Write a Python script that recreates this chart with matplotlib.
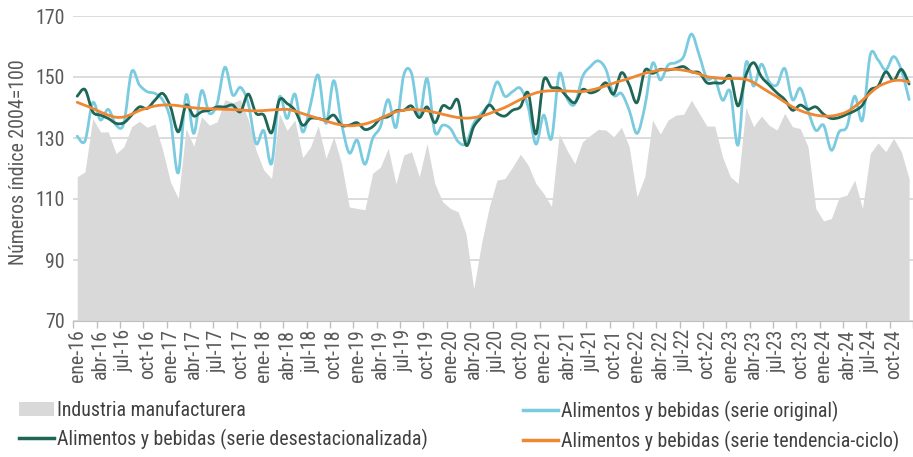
import matplotlib
matplotlib.use('Agg')
import matplotlib.pyplot as plt
from matplotlib import font_manager
from matplotlib.path import Path
from matplotlib.patches import PathPatch, Patch
from matplotlib.lines import Line2D

installed = {f.name for f in font_manager.fontManager.ttflist}
narrow = [n for n in ['Liberation Sans Narrow', 'Roboto Condensed', 'Open Sans Condensed']
          if n in installed]
if narrow:
    base_font = narrow[0]
    fs_tick, fs_leg = 14.3, 14.3
else:
    base_font = 'Liberation Sans'
    fs_tick, fs_leg = 12.5, 12
plt.rcParams['font.family'] = [base_font, 'DejaVu Sans']

months = ['ene', 'feb', 'mar', 'abr', 'may', 'jun', 'jul', 'ago', 'sep', 'oct', 'nov', 'dic']
years = ['16', '17', '18', '19', '20', '21', '22', '23', '24']
labels = [m + '-' + yy for yy in years for m in months]

industria = [
    117.3, 118.9, 136.4, 132.0, 132.0, 124.9, 127.1, 133.7, 135.5, 133.5, 134.6, 126.0,
    115.6, 110.2, 133.0, 127.3, 137.0, 134.2, 135.3, 142.6, 141.6, 142.6, 136.0, 126.0,
    119.5, 116.7, 138.0, 132.5, 135.9, 123.6, 127.0, 134.0, 123.3, 130.4, 121.6, 107.4,
    106.9, 106.5, 118.4, 120.5, 126.6, 115.0, 124.4, 125.5, 117.3, 128.2, 115.1, 109.1,
    106.9, 105.8, 98.7, 80.6, 95.4, 107.4, 116.2, 116.7, 120.5, 124.7, 121.1, 115.1,
    111.8, 107.6, 131.3, 126.0, 121.6, 128.8, 130.9, 132.8, 132.6, 130.4, 133.5, 127.1,
    110.7, 117.3, 135.9, 131.3, 135.9, 137.5, 137.8, 142.4, 138.1, 133.9, 133.9, 123.8,
    117.3, 115.1, 140.0, 133.7, 137.2, 134.2, 132.6, 138.1, 133.7, 133.1, 127.1, 106.9,
    102.8, 103.6, 110.5, 111.3, 116.2, 106.9, 124.9, 128.4, 125.5, 129.9, 125.5, 116.7]

original = [
    130.6, 129.0, 141.6, 135.9, 139.4, 134.2, 134.8, 151.7, 147.4, 145.2, 144.6, 142.4,
    135.9, 118.6, 144.1, 131.5, 145.5, 138.1, 141.3, 153.2, 144.1, 146.6, 141.3, 128.2,
    132.4, 121.6, 143.3, 136.4, 144.4, 132.0, 140.8, 150.6, 134.8, 148.8, 134.8, 125.1,
    129.3, 121.4, 129.8, 133.7, 142.6, 133.5, 150.6, 151.2, 137.0, 149.5, 132.0, 134.2,
    133.1, 128.8, 128.2, 134.8, 138.1, 141.3, 148.4, 143.7, 145.2, 146.3, 140.2, 128.0,
    137.5, 129.8, 151.0, 143.0, 141.1, 150.1, 153.4, 155.3, 152.5, 144.1, 144.6, 139.1,
    131.5, 140.2, 154.5, 149.0, 153.9, 154.7, 156.7, 164.1, 157.2, 149.5, 149.5, 142.4,
    145.2, 127.7, 154.5, 147.0, 154.2, 148.4, 147.4, 152.8, 142.6, 146.3, 138.9, 132.5,
    134.2, 126.0, 132.0, 133.7, 143.7, 135.9, 157.2, 155.6, 152.3, 156.7, 152.3, 142.6]

desest = [
    143.7, 145.9, 138.6, 137.5, 136.4, 134.8, 135.0, 137.5, 140.2, 139.7, 142.4, 144.6,
    140.2, 132.0, 140.8, 137.2, 138.6, 139.1, 140.2, 140.2, 140.8, 138.6, 144.4, 138.1,
    137.5, 131.7, 142.4, 141.3, 139.1, 134.2, 136.4, 136.4, 135.9, 137.5, 134.2, 134.2,
    135.0, 132.8, 133.7, 136.4, 137.0, 138.9, 139.1, 140.5, 136.7, 140.2, 135.0, 140.5,
    139.7, 142.2, 127.7, 133.7, 137.0, 140.8, 138.1, 137.2, 139.1, 140.2, 144.8, 131.3,
    149.0, 146.6, 146.3, 143.5, 141.6, 145.9, 144.8, 145.7, 148.1, 144.4, 151.4, 147.4,
    141.6, 152.1, 151.2, 152.5, 152.3, 152.8, 153.4, 151.7, 151.4, 148.1, 148.1, 148.1,
    150.3, 140.5, 150.5, 154.7, 150.1, 147.4, 144.8, 142.6, 139.1, 140.8, 139.4, 140.2,
    137.8, 136.4, 136.7, 137.8, 138.9, 140.8, 145.7, 147.0, 151.7, 148.8, 152.5, 147.7]

tendencia = [
    141.7, 140.7, 139.7, 138.5, 137.5, 136.8, 136.9, 137.8, 139.0, 139.8, 140.5, 140.8,
    140.8, 140.6, 140.2, 139.9, 139.7, 139.6, 139.5, 139.4, 139.3, 139.2, 139.0, 138.9,
    139.0, 139.2, 139.3, 139.4, 138.8, 138.0, 137.2, 136.4, 135.6, 134.8, 134.3, 134.0,
    134.2, 134.6, 135.4, 136.4, 137.6, 138.6, 139.1, 139.4, 139.2, 138.9, 138.4, 137.8,
    137.2, 136.7, 136.5, 136.7, 137.2, 138.0, 139.0, 140.0, 141.3, 142.6, 143.8, 144.8,
    145.3, 145.5, 145.5, 145.4, 145.3, 145.2, 145.7, 146.3, 147.1, 148.0, 148.8, 149.5,
    150.4, 151.2, 151.8, 152.3, 152.5, 152.5, 152.2, 151.7, 151.0, 150.1, 149.8, 149.5,
    149.5, 149.5, 149.2, 148.2, 146.6, 145.0, 143.5, 141.8, 140.2, 139.0, 138.1, 137.5,
    137.2, 137.2, 137.7, 138.6, 140.3, 142.4, 144.7, 146.8, 148.0, 148.8, 148.9, 148.4]

c_area = '#D9D9D9'
c_orig = '#7ACBE0'
c_desest = '#1E6655'
c_tend = '#EF8733'
c_text = '#595959'


def smooth_path(xs, ys):
    # bezier segments like the spreadsheet "smoothed line"
    n = len(xs)
    verts = [(xs[0], ys[0])]
    codes = [Path.MOVETO]
    for k in range(n - 1):
        a = max(k - 1, 0)
        d = min(k + 2, n - 1)
        c1 = (xs[k] + (xs[k + 1] - xs[a]) / 6.0, ys[k] + (ys[k + 1] - ys[a]) / 6.0)
        c2 = (xs[k + 1] - (xs[d] - xs[k]) / 6.0, ys[k + 1] - (ys[d] - ys[k]) / 6.0)
        verts += [c1, c2, (xs[k + 1], ys[k + 1])]
        codes += [Path.CURVE4] * 3
    return Path(verts, codes)


x = list(range(len(labels)))

fig = plt.figure(figsize=(9.13, 4.57), dpi=100)
ax = fig.add_axes([73.3 / 913, 1 - 321 / 457, 1 - 73.3 / 913, (321 - 16) / 457])

ax.fill_between(x, 70, industria, color=c_area, lw=0, zorder=1)
for series, col, z in [(original, c_orig, 3), (desest, c_desest, 4), (tendencia, c_tend, 5)]:
    ax.add_patch(PathPatch(smooth_path(x, series), facecolor='none', edgecolor=col,
                           lw=2.0, capstyle='round', joinstyle='round', zorder=z))

ax.set_xlim(-0.5, len(labels) - 0.5)
ax.set_ylim(70, 170)
ax.set_yticks([70, 90, 110, 130, 150, 170])
ax.yaxis.grid(True, color='#D9D9D9', lw=1.3)
ax.set_axisbelow(True)
for s in ['top', 'right', 'left']:
    ax.spines[s].set_visible(False)
ax.spines['bottom'].set_color('#BFBFBF')
ax.spines['bottom'].set_zorder(6)

ax.set_xticks(x[::3])
ax.set_xticklabels(labels[::3], rotation=90)
ax.set_xticks([i - 0.5 for i in x[::3]] + [len(labels) - 0.5], minor=True)
ax.tick_params(axis='x', which='major', length=0, pad=6, labelsize=fs_tick, labelcolor=c_text)
ax.tick_params(axis='x', which='minor', length=5, width=1, color='#BFBFBF')
ax.tick_params(axis='y', length=0, pad=6, labelsize=fs_tick, labelcolor=c_text)

fig.text(19 / 913, 0.645, 'Números índice 2004=100', rotation=90, ha='center', va='center',
         fontsize=fs_tick, color=c_text)

h_area = Patch(facecolor=c_area, edgecolor='none')
h_orig = Line2D([], [], color=c_orig, lw=2.5)
h_desest = Line2D([], [], color=c_desest, lw=2.5)
h_tend = Line2D([], [], color=c_tend, lw=2.5)

common = dict(loc='upper left', frameon=False, fontsize=fs_leg, handlelength=1.75,
              handletextpad=0.15, labelspacing=0.45, borderpad=0, borderaxespad=0,
              labelcolor='#404040')
leg1 = fig.legend([h_area, h_desest],
                  ['Industria manufacturera', 'Alimentos y bebidas (serie desestacionalizada)'],
                  bbox_to_anchor=(19 / 913, 1 - 401 / 457), **common)
leg2 = fig.legend([h_orig, h_tend],
                  ['Alimentos y bebidas (serie original)', 'Alimentos y bebidas (serie tendencia-ciclo)'],
                  bbox_to_anchor=(523 / 913, 1 - 401 / 457), **common)

fig.savefig('out.png', dpi=100)
